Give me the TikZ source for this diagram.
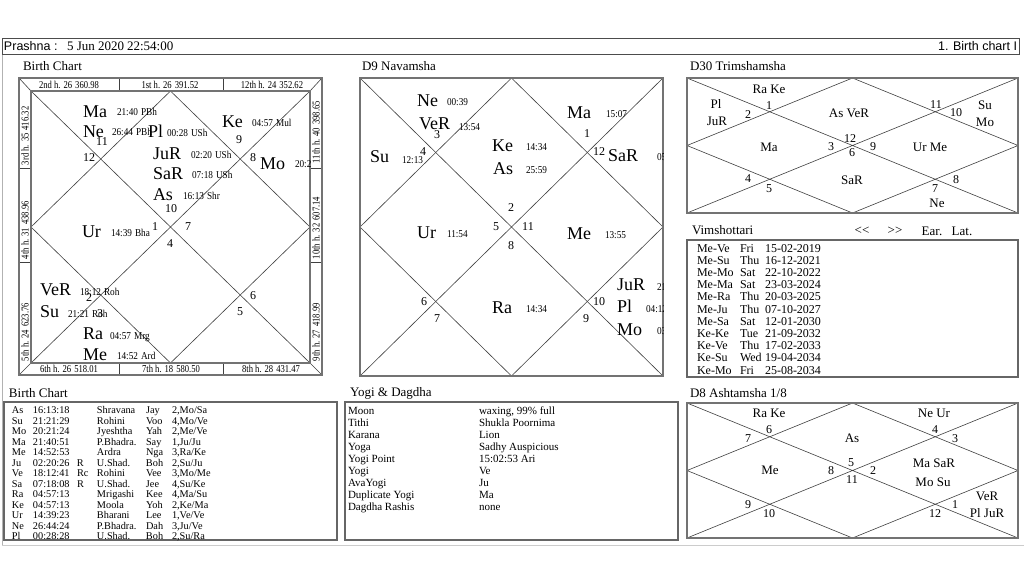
\documentclass[tikz,border=0pt]{standalone}
\usepackage{fontspec}
\setmainfont{Liberation Serif}
\newfontfamily\sansf{Liberation Sans}
\newfontfamily\narrowf[FakeStretch=0.88]{Liberation Serif}
\newfontfamily\bandf[FakeStretch=0.82]{Liberation Serif}
\newcommand\nichart[4]{%
  \draw[cl] (#1,#2) -- (#3,#4) (#1,#4) -- (#3,#2);
  \draw[cl] ({(#1+#3)/2},#2) -- (#3,{(#2+#4)/2}) -- ({(#1+#3)/2},#4) -- (#1,{(#2+#4)/2}) -- cycle;
  \draw[frame] (#1,#2) rectangle (#3,#4);}
\newcommand\brow[8]{\node[tb] (#1) at (12,#2) {\makebox[21pt][l]{#3}\makebox[44pt][l]{#4}\makebox[20pt][l]{#5}\makebox[49pt][l]{#6}\makebox[26pt][l]{#7}#8};}
\newcommand\yrow[4]{\node[ty] (#1) at (348,#2) {\makebox[131pt][l]{#3}#4};}
\newcommand\vrow[5]{\node[tv] (#1) at (697,#2) {\makebox[43pt][l]{#3}\makebox[25pt][l]{#4}#5};}
\newcommand\dsp{\hspace{3pt}}
\begin{document}
\begin{tikzpicture}[x=1pt,y=-1pt,
  every node/.style={inner sep=0pt, outer sep=0pt},
  frame/.style={draw=black!55, line width=1.8pt},
  tframe/.style={draw=black!60, line width=1.2pt},
  cl/.style={draw=black!75, line width=0.6pt},
  pl/.style={font=\fontsize{18}{18}\selectfont, anchor=base west},
  dg/.style={font=\narrowf\fontsize{10.5}{10.5}\selectfont, anchor=base west},
  hn/.style={font=\fontsize{12}{12}\selectfont},
  lb/.style={font=\fontsize{13}{13}\selectfont},
  band/.style={font=\bandf\fontsize{10.5}{10.5}\selectfont},
  ttl/.style={font=\fontsize{13}{13}\selectfont, anchor=west},
  tb/.style={font=\fontsize{10.3}{10.3}\selectfont, anchor=base west},
  ty/.style={font=\fontsize{11}{11}\selectfont, anchor=base west},
  tv/.style={font=\fontsize{12}{12}\selectfont, anchor=base west}
]
\useasboundingbox[fill=white] (0,0) rectangle (1024,576);
% window lines
\draw[black!30, line width=0.8pt] (2.5,54) -- (2.5,545);
\draw[black!20, line width=0.8pt] (2,545) -- (1024,545);
% header
\draw[black!70, line width=0.8pt] (2,38) rectangle (1019,54);
\node[anchor=west, font=\sansf\fontsize{12.5}{12.5}\selectfont] (hd1) at (4,46) {Prashna :};
\node[anchor=west, font=\fontsize{13}{13}\selectfont] (hd2) at (67,46) {5 Jun 2020\dsp 22:54:00};
\node[anchor=east, font=\sansf\fontsize{12.5}{12.5}\selectfont] (hd3) at (1017,46) {1. Birth chart I};
% titles
\node[ttl] (t1) at (23,66) {Birth Chart};
\node[ttl] (t2) at (362,66) {D9 Navamsha};
\node[ttl] (t3) at (690,66) {D30 Trimshamsha};
\node[ttl] (t4) at (692,230) {Vimshottari};
\node[ttl] (t5) at (9,393) {Birth Chart};
\node[ttl] (t6) at (350,393) {Yogi \& Dagdha};
\node[ttl] (t7) at (690,393) {D8 Ashtamsha 1/8};

% ===== Birth chart =====
\draw[cl] (19,78) -- (31,91) (322,78) -- (310,91) (19,375) -- (31,363) (322,375) -- (310,363);
\draw[cl] (119,78) -- (119,91) (223,78) -- (223,91) (119,363) -- (119,375) (223,363) -- (223,375);
\draw[cl] (19,168) -- (31,168) (19,262) -- (31,262) (310,168) -- (322,168) (310,262) -- (322,262);
\draw[frame] (19,78) rectangle (322,375);
\nichart{31}{91}{310}{363}
\node[band] (bt1) at (69,84.5) {2nd h.\dsp 26\dsp 360.98};
\node[band] (bt2) at (170,84.5) {1st h.\dsp 26\dsp 391.52};
\node[band] (bt3) at (272,84.5) {12th h.\dsp 24\dsp 352.62};
\node[band] (bb1) at (69,369) {6th h.\dsp 26\dsp 518.01};
\node[band] (bb2) at (171,369) {7th h.\dsp 18\dsp 580.50};
\node[band] (bb3) at (271,369) {8th h.\dsp 28\dsp 431.47};
\node[band, rotate=90, anchor=west] (bl1) at (25,165) {3rd h.\dsp 35\dsp 416.32};
\node[band, rotate=90, anchor=west] (bl2) at (25,259) {4th h.\dsp 31\dsp 438.96};
\node[band, rotate=90, anchor=west] (bl3) at (25,361) {5th h.\dsp 24\dsp 623.76};
\node[band, rotate=90, anchor=west] (br1) at (316,163) {11th h.\dsp 40\dsp 398.65};
\node[band, rotate=90, anchor=west] (br2) at (316,259) {10th h.\dsp 32\dsp 607.14};
\node[band, rotate=90, anchor=west] (br3) at (316,361) {9th h.\dsp 27\dsp 418.99};
\begin{scope}
\clip (31,91) rectangle (310,363);
\foreach \x/\y/\t [count=\i] in {83/117/Ma, 83/137/Ne, 148/137/Pl, 222/127/Ke, 153/159/JuR, 153/179/SaR, 153/200/As, 260/169/Mo, 82/237/Ur, 40/295/VeR, 40/317/Su, 83/339/Ra, 83/360/Me}
  \node[pl] (bp\i) at (\x,\y) {\t};
\foreach \x/\y/\t [count=\i] in {117/115.5/21:40\dsp PBh, 112/135.5/26:44\dsp PBh, 167/136.5/00:28\dsp USh, 252/126.5/04:57\dsp Mul, 191/158.5/02:20\dsp USh, 192/178.5/07:18\dsp USh, 183/199.5/16:13\dsp Shr, 295/167.5/20:21\dsp Jye, 111/236.5/14:39\dsp Bha, 80/295.5/18:12\dsp Roh, 68/317.5/21:21\dsp Roh, 110/339.5/04:57\dsp Mrg, 117/359.5/14:52\dsp Ard}
  \node[dg] (bd\i) at (\x,\y) {\t};
\end{scope}
\foreach \x/\y/\t [count=\i] in {102/142/11, 239/140/9, 89/158/12, 253/158/8, 171/209/10, 155/227/1, 188/227/7, 170/244/4, 89/298/2, 100/314/3, 253/296/6, 240/312/5}
  \node[hn] (bh\i) at (\x,\y) {\t};

% ===== D9 =====
\nichart{360}{78}{663}{376}
\begin{scope}
\clip (360,78) rectangle (663,376);
\foreach \x/\y/\t [count=\i] in {417/106/Ne, 419/129/VeR, 370/162/Su, 492/151/Ke, 493/174/As, 567/118/Ma, 608/161/SaR, 417/238/Ur, 567/239/Me, 492/313/Ra, 617/290/JuR, 617/312/Pl, 617/335/Mo}
  \node[pl] (np\i) at (\x,\y) {\t};
\foreach \x/\y/\t [count=\i] in {447/105.5/00:39, 459/130.5/13:54, 402/163.5/12:13, 526/150.5/14:34, 526/173.5/25:59, 606/117.5/15:07, 657/160.5/05:42, 447/237.5/11:54, 605/238.5/13:55, 526/312.5/14:34, 657/290.5/21:00, 646/312.5/04:12, 657/334.5/03:09}
  \node[dg] (nd\i) at (\x,\y) {\t};
\end{scope}
\foreach \x/\y/\t [count=\i] in {437/135/3, 423/152/4, 587/134/1, 599/152/12, 511/208/2, 496/227/5, 528/227/11, 511/246/8, 424/302/6, 437/319/7, 599/302/10, 586/319/9}
  \node[hn] (nh\i) at (\x,\y) {\t};

% ===== D30 =====
\nichart{687}{78}{1018}{213}
\foreach \x/\y/\t [count=\i] in {769/89/Ra Ke, 716/104/Pl, 717/121/JuR, 849/113/As VeR, 985/105/Su, 985/122/Mo, 769/147/Ma, 930/147/Ur Me, 852/180/SaR, 937/203/Ne}
  \node[lb] (tp\i) at (\x,\y) {\t};
\foreach \x/\y/\t [count=\i] in {748/115/2, 769/106/1, 936/105/11, 956/113/10, 831/147/3, 850/139/12, 852/153/6, 873/147/9, 748/179/4, 769/189/5, 935/189/7, 956/180/8}
  \node[hn] (th\i) at (\x,\y) {\t};

% ===== Vimshottari =====
\node[lb] (v1) at (862,231) {<\kern0pt<};
\node[lb] (v2) at (895,231) {>\kern0pt>};
\node[lb] (v3) at (932,231) {Ear.};
\node[lb] (v4) at (962,231) {Lat.};
\draw[tframe] (687,240) rectangle (1018,377);
\vrow{vr1}{252}{Me-Ve}{Fri}{15-02-2019}
\vrow{vr2}{264.2}{Me-Su}{Thu}{16-12-2021}
\vrow{vr3}{276.4}{Me-Mo}{Sat}{22-10-2022}
\vrow{vr4}{288.6}{Me-Ma}{Sat}{23-03-2024}
\vrow{vr5}{300.8}{Me-Ra}{Thu}{20-03-2025}
\vrow{vr6}{313}{Me-Ju}{Thu}{07-10-2027}
\vrow{vr7}{325.2}{Me-Sa}{Sat}{12-01-2030}
\vrow{vr8}{337.4}{Ke-Ke}{Tue}{21-09-2032}
\vrow{vr9}{349.6}{Ke-Ve}{Thu}{17-02-2033}
\vrow{vr10}{361.8}{Ke-Su}{Wed}{19-04-2034}
\vrow{vr11}{374}{Ke-Mo}{Fri}{25-08-2034}

% ===== Birth chart table =====
\draw[tframe] (4,402) rectangle (337,540);
\brow{br1}{413.5}{As}{16:13:18}{}{Shravana}{Jay}{2,Mo/Sa}
\brow{br2}{424}{Su}{21:21:29}{}{Rohini}{Voo}{4,Mo/Ve}
\brow{br3}{434.5}{Mo}{20:21:24}{}{Jyeshtha}{Yah}{2,Me/Ve}
\brow{br4}{445}{Ma}{21:40:51}{}{P.Bhadra.}{Say}{1,Ju/Ju}
\brow{br5}{455.5}{Me}{14:52:53}{}{Ardra}{Nga}{3,Ra/Ke}
\brow{br6}{466}{Ju}{02:20:26}{R}{U.Shad.}{Boh}{2,Su/Ju}
\brow{br7}{476.5}{Ve}{18:12:41}{Rc}{Rohini}{Vee}{3,Mo/Me}
\brow{br8}{487}{Sa}{07:18:08}{R}{U.Shad.}{Jee}{4,Su/Ke}
\brow{br9}{497.5}{Ra}{04:57:13}{}{Mrigashi}{Kee}{4,Ma/Su}
\brow{br10}{508}{Ke}{04:57:13}{}{Moola}{Yoh}{2,Ke/Ma}
\brow{br11}{518.5}{Ur}{14:39:23}{}{Bharani}{Lee}{1,Ve/Ve}
\brow{br12}{529}{Ne}{26:44:24}{}{P.Bhadra.}{Dah}{3,Ju/Ve}
\brow{br13}{539.5}{Pl}{00:28:28}{}{U.Shad.}{Boh}{2,Su/Ra}

% ===== Yogi & Dagdha =====
\draw[tframe] (345,402) rectangle (678,540);
\yrow{yr1}{414.5}{Moon}{waxing, 99\% full}
\yrow{yr2}{426.5}{Tithi}{Shukla\dsp Poornima}
\yrow{yr3}{438.5}{Karana}{Lion}
\yrow{yr4}{450.5}{Yoga}{Sadhy Auspicious}
\yrow{yr5}{462.5}{Yogi Point}{15:02:53 Ari}
\yrow{yr6}{474.5}{Yogi}{Ve}
\yrow{yr7}{486.5}{AvaYogi}{Ju}
\yrow{yr8}{498.5}{Duplicate Yogi}{Ma}
\yrow{yr9}{510.5}{Dagdha Rashis}{none}

% ===== D8 =====
\nichart{687}{403}{1018}{538}
\foreach \x/\y/\t [count=\i] in {769/413/Ra Ke, 852/438/As, 934/413/Ne Ur, 770/470/Me, 934/463/Ma SaR, 933/482/Mo Su, 987/496/VeR, 987/513/Pl JuR}
  \node[lb] (ep\i) at (\x,\y) {\t};
\foreach \x/\y/\t [count=\i] in {748/439/7, 769/430/6, 935/430/4, 955/439/3, 831/471/8, 851/463/5, 852/480/11, 873/471/2, 748/505/9, 769/514/10, 935/514/12, 955/505/1}
  \node[hn] (eh\i) at (\x,\y) {\t};
\end{tikzpicture}
\end{document}
